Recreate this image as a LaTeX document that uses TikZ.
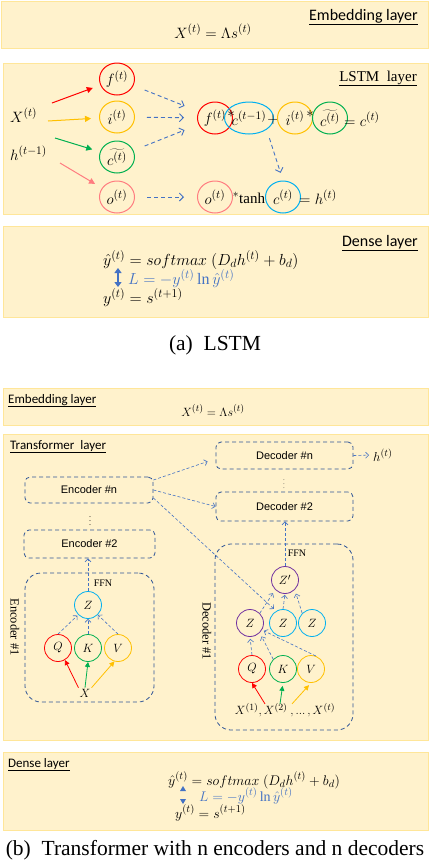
\RequirePackage{fix-cm}
\documentclass[tikz,border=0pt]{standalone}
\usepackage{fontspec}
\setmainfont{Liberation Serif}
\newfontfamily\calfont{Carlito}
\newfontfamily\arfont{Liberation Sans}
\usetikzlibrary{arrows.meta,shapes.geometric,calc}
\DeclareMathSizes{15}{15}{11.5}{9}
\DeclareMathSizes{16}{16}{12}{9.5}
\DeclareMathSizes{14}{14}{10.5}{8}
\DeclareMathSizes{12}{12}{9.5}{7.5}
\DeclareMathSizes{13}{13}{10}{8}
\definecolor{panelfill}{HTML}{FFF2CC}
\definecolor{paneledge}{HTML}{FFE699}
\definecolor{dblue}{HTML}{4472C4}
\definecolor{boxblue}{HTML}{2F5597}
\definecolor{cred}{HTML}{FF0000}
\definecolor{cgold}{HTML}{FFC000}
\definecolor{cgreen}{HTML}{00B050}
\definecolor{cpink}{HTML}{FF7C80}
\definecolor{ccyan}{HTML}{00B0F0}
\definecolor{cpurple}{HTML}{7030A0}
\begin{document}
\begin{tikzpicture}[x=1pt,y=-1pt,
  panel/.style={rectangle,fill=panelfill,draw=paneledge,line width=0.8pt,anchor=north west,inner sep=0pt},
  mA/.style={font=\fontsize{15}{18}\selectfont,inner sep=1pt},
  mD/.style={font=\fontsize{16}{19}\selectfont,inner sep=0pt},
  mDb/.style={font=\fontsize{14}{17}\selectfont,inner sep=0pt},
  tmath/.style={font=\fontsize{12}{14}\selectfont,inner sep=1pt},
  ttlA/.style={font=\calfont\fontsize{16}{19}\selectfont,inner sep=0pt},
  ttlB/.style={font=\calfont\fontsize{13}{15}\selectfont,inner sep=0pt},
  capt/.style={font=\fontsize{21.5}{26}\selectfont,inner sep=0pt},
  gate/.style={ellipse,draw,line width=1pt,minimum width=35pt,minimum height=32pt,inner sep=0pt,font=\fontsize{15}{18}\selectfont},
  tcirc/.style={circle,draw,line width=0.8pt,minimum size=27pt,inner sep=0pt,font=\fontsize{12}{14}\selectfont},
  solidarr/.style={line width=1pt,shorten >=8pt,-{Triangle[length=6pt,width=6pt]}},
  dasharr/.style={dblue,line width=0.9pt,dash pattern=on 4pt off 3pt,-{Straight Barb[length=4pt,width=8pt]}},
  tarr/.style={dblue,line width=0.6pt,dash pattern=on 3pt off 2pt,-{Straight Barb[length=3pt,width=6pt]}},
  qarr/.style={line width=0.8pt,-{Triangle[length=5pt,width=5pt]}},
  tbox/.style={rectangle,draw=boxblue,line width=0.8pt,dash pattern=on 4pt off 3pt,rounded corners=5pt,inner sep=0pt,font=\arfont\fontsize{11}{13}\selectfont},
  bigbox/.style={rectangle,draw=boxblue,line width=0.8pt,dash pattern=on 4pt off 3pt,rounded corners=16pt,inner sep=0pt},
  smlbl/.style={font=\fontsize{10}{12}\selectfont,inner sep=0pt},
  rotlbl/.style={rotate=-90,font=\fontsize{12.5}{15}\selectfont,inner sep=0pt}
]
\useasboundingbox (0,0) rectangle (430,868);

% ================= (a) LSTM =================
\node[panel,minimum width=427pt,minimum height=47pt] (embA) at (1,1) {};
\node[panel,minimum width=425pt,minimum height=151pt] (lstmA) at (3,63) {};
\node[panel,minimum width=425pt,minimum height=91pt] (denseA) at (3,226) {};

\node[ttlA,anchor=base east] (embAt) at (418,20) {\underline{Embedding layer}};
\node[mA,anchor=base,inner sep=0pt] (embAm) at (213,38) {$X^{(t)} = \Lambda s^{(t)}$};
\node[font=\fontsize{15}{18}\selectfont,inner sep=0pt,anchor=base east] (lstmAt) at (417,81) {\underline{LSTM\ \ layer}};

\node[mA,anchor=base west,inner sep=0pt] (xin) at (10,122) {$X^{(t)}$};
\node[mA,anchor=base west,inner sep=0pt] (hin) at (10,160) {$h^{(t-1)}$};
\node[gate,draw=cred] (gf) at (117,79) {$f^{(t)}$};
\node[gate,draw=cgold] (gi) at (117,117) {$i^{(t)}$};
\node[gate,draw=cgreen] (gc) at (117,157) {$\widetilde{c^{(t)}}$};
\node[gate,draw=cpink] (go) at (117,197) {$o^{(t)}$};

\coordinate (sr) at (52,103);
\coordinate (sy) at (48,121);
\coordinate (sg) at (55,138);
\coordinate (sp) at (60,163);
\draw[solidarr,cred] (sr) -- (gf);
\draw[solidarr,cgold] (sy) -- (gi);
\draw[solidarr,cgreen] (sg) -- (gc);
\draw[solidarr,cpink] (sp) -- (go);

\node[gate,draw=cred] (ef) at (215,118) {$f^{(t)}$};
\node[mA,inner sep=0pt] (st1) at (231,114) {$*$};
\node[gate,draw=ccyan] (ec) at (249,118) {$c^{(t-1)}$};
\node[mA,inner sep=0pt] (pl) at (273,120) {$+$};
\node[gate,draw=cgold] (ei) at (295,118) {$i^{(t)}$};
\node[mA,inner sep=0pt] (st2) at (310,114) {$*$};
\node[gate,draw=cgreen] (ect) at (330,118) {$\widetilde{c^{(t)}}$};
\node[mA,anchor=west,inner sep=0pt] (eqc) at (344,119) {$= c^{(t)}$};

\node[gate,draw=cpink] (eo) at (215,197) {$o^{(t)}$};
\node[mA,inner sep=0pt] (tanh) at (249,198) {${}^{*}\!\tanh$};
\node[gate,draw=ccyan] (ec2) at (283,197) {$c^{(t)}$};
\node[mA,anchor=west,inner sep=0pt] (eqh) at (299,197) {$= h^{(t)}$};

\draw[dasharr,shorten <=12pt,shorten >=15pt] (gf) -- (ef);
\draw[dasharr,shorten <=12pt,shorten >=13pt] (gi) -- (ef);
\draw[dasharr,shorten <=12pt,shorten >=15pt] (gc) -- (ef);
\draw[dasharr,shorten <=12pt,shorten >=13pt] (go) -- (eo);
\draw[dasharr,shorten <=9pt,shorten >=8pt] (ec.south east) -- (ec2.north);

\node[ttlA,anchor=base east] (denseAt) at (418,246) {\underline{Dense layer}};
\node[mD,anchor=base west] (yhatA) at (103,265) {$\hat{y}^{(t)} = softmax\ (D_d h^{(t)} + b_d)$};
\node[mD,anchor=base west,text=dblue] (lossA) at (128,284) {$L = -y^{(t)} \ln \hat{y}^{(t)}$};
\node[mD,anchor=base west] (yA) at (103,303) {$y^{(t)} = s^{(t+1)}$};
\coordinate (daT) at (118,268);
\coordinate (daB) at (118,287);
\draw[dblue,line width=1.6pt,{Triangle[width=7pt,length=5pt]}-{Triangle[width=7pt,length=5pt]}] (daT) -- (daB);

\node[capt,anchor=base] (capA) at (215,350) {(a)\ \ LSTM};

% ================= (b) Transformer =================
\node[panel,minimum width=425pt,minimum height=37pt] (embB) at (3,388) {};
\node[panel,minimum width=425pt,minimum height=306pt] (trB) at (3,434) {};
\node[panel,minimum width=425pt,minimum height=78pt] (denseB) at (3,752) {};

\node[ttlB,anchor=base west] (embBt) at (8,403) {\underline{Embedding layer}};
\node[font=\fontsize{12}{14}\selectfont,inner sep=0pt,anchor=base] (embBm) at (213,416) {$X^{(t)} = \Lambda s^{(t)}$};
\node[ttlB,anchor=base west] (trBt) at (10,449) {\underline{Transformer\ \ layer}};

\node[tbox,minimum width=137pt,minimum height=27pt] (decn) at (284.5,455.5) {Decoder \#n};
\node[tbox,minimum width=137pt,minimum height=29pt] (dec2) at (284.5,506.5) {Decoder \#2};
\node[tbox,minimum width=128pt,minimum height=26pt] (encn) at (89,490) {Encoder \#n};
\node[tbox,minimum width=131pt,minimum height=28pt] (enc2) at (89.5,544) {Encoder \#2};
\node[bigbox,minimum width=129pt,minimum height=129pt] (enc1) at (89.5,637.5) {};
\node[bigbox,minimum width=138pt,minimum height=186pt] (dec1) at (284,637) {};

\node[text=black!70,font=\fontsize{7}{7}\selectfont,inner sep=0pt] (dotsd) at (284,481) {$\vdots$};
\node[font=\fontsize{8}{8}\selectfont,inner sep=0pt] (dotse) at (90,518) {$\vdots$};

\node[rotlbl] (enc1l) at (15,627) {Encoder \#1};
\node[rotlbl] (dec1l) at (207,631) {Decoder \#1};
\node[smlbl] (ffnE) at (103,583) {FFN};
\node[smlbl] (ffnD) at (297,553) {FFN};

\node[tcirc,draw=ccyan] (eZ) at (88,605) {$Z$};
\node[tcirc,draw=cred] (eQ) at (58,648) {$Q$};
\node[tcirc,draw=cgreen] (eK) at (88,648) {$K$};
\node[tcirc,draw=cgold] (eV) at (118,648) {$V$};
\node[tmath] (eX) at (85,693) {$X$};

\node[tcirc,draw=cpurple] (dZp) at (285,580) {$Z'$};
\node[tcirc,draw=cpurple] (dZ1) at (250,623) {$Z$};
\node[tcirc,draw=ccyan] (dZ2) at (283,623) {$Z$};
\node[tcirc,draw=ccyan] (dZ3) at (312,623) {$Z$};
\node[tcirc,draw=cred] (dQ) at (252,669) {$Q$};
\node[tcirc,draw=cgreen] (dK) at (283,669) {$K$};
\node[tcirc,draw=cgold] (dV) at (311,669) {$V$};
\node[tmath] (dX) at (285,710) {$X^{(1)}, X^{(2)}\ , \mathord{...}\,, X^{(t)}$};

\node[font=\fontsize{13}{15}\selectfont,anchor=west,inner sep=1pt] (hout) at (372,455) {$h^{(t)}$};
\draw[tarr,shorten >=3pt] (decn.east) -- (hout.west);

\draw[tarr] ($(encn.east)+(0,-10)$) -- ($(decn.west)+(-8,6)$);
\draw[tarr] (encn.east) -- (dec2.west);
\draw[tarr,shorten >=3pt] ($(encn.east)+(0,8)$) -- (dZ2.120);

\draw[tarr] (eZ.north) -- (eZ.north |- enc2.south);
\draw[tarr] (dZp.north) -- (dZp.north |- dec2.south);

\draw[tarr,shorten >=1pt] (eQ.north) -- (eZ.south west);
\draw[tarr] (eK.north) -- (eZ.south);
\draw[tarr] (eV.north) -- (eZ.south east);
\draw[tarr,shorten >=2pt] (dQ.north) -- (dZ1.south);
\draw[tarr,shorten >=4pt] (dK.north west) -- (dZ1.south east);
\draw[tarr,shorten >=2pt] (dV.70) -- (dZ1.330);
\draw[tarr,shorten >=4pt] (dZ1.north east) -- (dZp.south west);
\draw[tarr,shorten >=1pt] (dZ2.north) -- (dZp.south);
\draw[tarr,shorten >=4pt] (dZ3.north west) -- (dZp.south east);

\draw[qarr,cred] (eX.north west) -- (eQ.300);
\draw[qarr,cgreen] (eX.north) -- (eK.south);
\draw[qarr,cgold] (eX.north east) -- (eV.255);
\draw[qarr,cred] ($(dX.north)+(-20,2)$) -- (dQ.south);
\draw[qarr,cgreen,shorten >=3pt] ($(dX.north)+(-5,2)$) -- (dK.south);
\draw[qarr,cgold,shorten >=3pt] ($(dX.north)+(7,2)$) -- (dV.south);

\node[ttlB,anchor=base west] (denseBt) at (8,767) {\underline{Dense layer}};
\node[mDb,anchor=base west] (yhatB) at (168,785) {$\hat{y}^{(t)} = softmax\ (D_d h^{(t)} + b_d)$};
\node[mDb,anchor=base west,text=dblue] (lossB) at (199,801) {$L = -y^{(t)} \ln \hat{y}^{(t)}$};
\node[mDb,anchor=base west] (yB) at (175,818) {$y^{(t)} = s^{(t+1)}$};
\fill[dblue] (180,791) -- (186,791) -- (183,786) -- cycle;
\fill[dblue] (180,799) -- (186,799) -- (183,804) -- cycle;

\node[capt,anchor=base] (capB) at (215,855) {(b)\ \ Transformer with n encoders and n decoders};
\end{tikzpicture}
\end{document}
